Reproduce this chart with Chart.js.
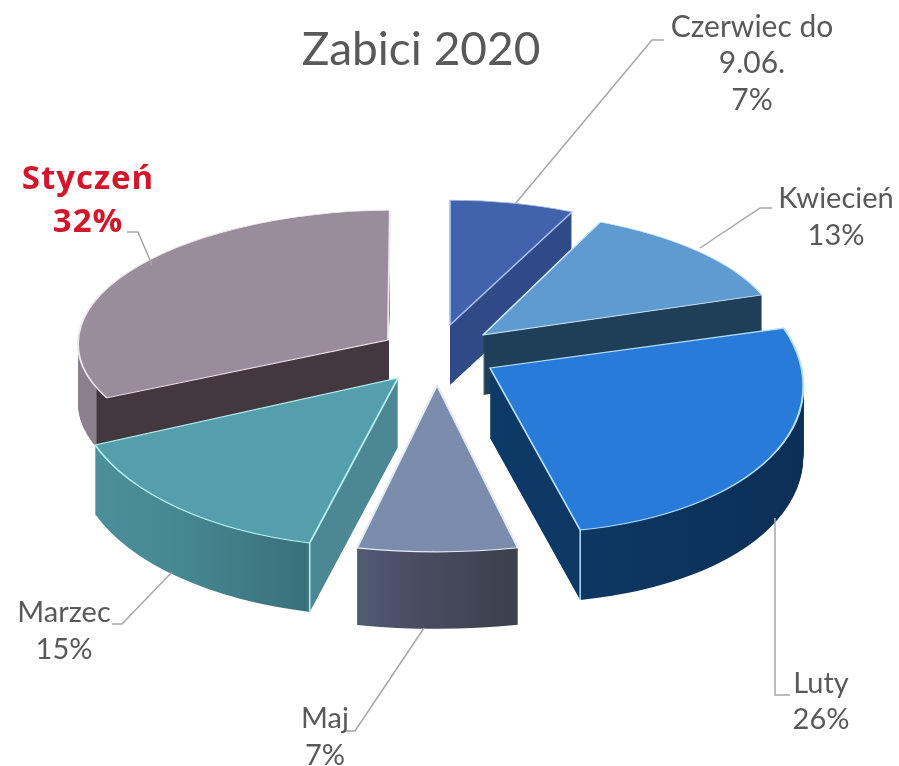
<!DOCTYPE html>
<html lang="pl">
<head>
  <meta charset="UTF-8">
  <title>Zabici 2020</title>
  <style>
    html, body { margin: 0; background: #fff; }
    canvas { display: block; }
  </style>
</head>
<body>
  <canvas id="pie" width="899" height="766"></canvas>

  <script src="https://cdn.jsdelivr.net/npm/chart.js"></script>
  <script>
    const months = ['Czerwiec do 9.06.', 'Kwiecień', 'Luty', 'Maj', 'Marzec', 'Styczeń'];
    const shares = [7, 13, 26, 7, 15, 32];

    const topColors = ['#4263ab', '#5f9ad0', '#287bd8', '#7b8cad', '#559fad', '#998c9b'];
    const edgeColors = ['#a9c0f0', '#cfe6fa', '#b5e0fa', '#e6ebf2', '#b5f0f0', '#eee8ee'];
    // wall shading, left to right across the pie box
    const wallStops = [
      [[0, '#2f4a86'], [1, '#2f4a86']],
      [[0, '#1f3f58'], [1, '#1f3f58']],
      [[0.5, '#0e3a68'], [1, '#0c2f56']],
      [[0.39, '#565f78'], [0.46, '#4a5067'], [0.61, '#3c414d']],
      [[0.02, '#4d919d'], [0.2, '#458791'], [0.40, '#39717b'], [0.408, '#4c8893'], [0.5, '#4c8893']],
      [[0, '#8c7f8e'], [0.03, '#8c7f8e'], [0.032, '#43383f'], [1, '#43383f']]
    ];

    // the pie is faked into perspective, every slice gets its own flattening
    const pieX = 437, pieY = 352, pieRadius = 310;
    const sliceShift = [[13, -27], [46, -17], [53, 16], [0, 33], [-39, 26], [-49, -12]];
    const sliceMatrix = [
      [0.924, 0, 0, 0.403],
      [0.957, -0.006, 0.033, 0.40],
      [1.01, 0.037, 0.041, 0.53],
      [1.19, 0.016, -0.036, 0.538],
      [1.037, 0.018, -0.092, 0.545],
      [1.0, -0.009, -0.006, 0.419]
    ];
    const sliceDepth = [60, 60, 70, 77, 69, 60];
    const drawOrder = [0, 5, 1, 2, 4, 3];
    // light vertical edge on the front corners: slice index, which end of the arc
    const cornerLines = { 2: 'endAngle', 4: 'startAngle' };

    const textColor = '#595959';
    const lineColor = '#a6a6a6';
    const captions = [
      { lines: ['Zabici 2020'], x: 421, y: 50, size: 46, step: 0 },
      { lines: ['Czerwiec do', '9.06.', '7%'], x: 752, y: 27, size: 30, step: 36.5 },
      { lines: ['Kwiecień', '13%'], x: 836, y: 199, size: 29, step: 37 },
      { lines: ['Luty', '26%'], x: 821, y: 684, size: 29, step: 36 },
      { lines: ['Maj', '7%'], x: 325, y: 719, size: 29, step: 37 },
      { lines: ['Marzec', '15%'], x: 64, y: 613, size: 29, step: 37 },
      { lines: ['Styczeń', '32%'], x: 88, y: 180, step: 43, color: '#d3162a', font: 'bold 33px "Open Sans"', spacing: '1px' }
    ];
    const leaders = [
      [[515, 204], [652, 40], [664, 40]],
      [[700, 248], [760, 208], [772, 208]],
      [[775, 518], [775, 695], [790, 695]],
      [[424, 628], [355, 731], [343, 731]],
      [[172, 572], [122, 624], [112, 624]],
      [[152, 265], [138, 232], [127, 232]]
    ];

    function arcWithStyle(arc, style) {
      const copy = Object.create(arc);
      copy.options = Object.assign({
        borderAlign: 'center', borderDash: [], borderDashOffset: 0, borderJoinStyle: 'round',
        borderRadius: 0, circular: true, offset: 0, spacing: 0, selfJoin: false
      }, style);
      return copy;
    }

    function placeSlice(ctx, arc, i, drop) {
      const m = sliceMatrix[i];
      ctx.translate(pieX + sliceShift[i][0], pieY + sliceShift[i][1] + drop);
      ctx.transform(m[0], m[1], m[2], m[3], 0, 0);
      ctx.translate(-arc.x, -arc.y);
    }

    const fakePie3d = {
      id: 'fakePie3d',
      beforeDatasetsDraw(chart) {
        const ctx = chart.ctx;
        const arcs = chart.getDatasetMeta(0).data;
        drawOrder.forEach((i) => {
          const arc = arcs[i];
          const grad = ctx.createLinearGradient(arc.x - pieRadius, 0, arc.x + pieRadius, 0);
          wallStops[i].forEach((s) => grad.addColorStop(s[0], s[1]));
          const wall = arcWithStyle(arc, { backgroundColor: grad, borderColor: grad, borderWidth: 0 });
          for (let d = sliceDepth[i]; d > 0; d--) {
            ctx.save();
            placeSlice(ctx, arc, i, d);
            wall.draw(ctx);
            ctx.restore();
          }
          ctx.save();
          placeSlice(ctx, arc, i, 0);
          arcWithStyle(arc, { backgroundColor: topColors[i], borderColor: edgeColors[i], borderWidth: 2 }).draw(ctx);
          let corner = null;
          if (cornerLines[i]) {
            const a = arc[cornerLines[i]];
            corner = ctx.getTransform().transformPoint(new DOMPoint(arc.x + pieRadius * Math.cos(a), arc.y + pieRadius * Math.sin(a)));
          }
          ctx.restore();
          if (corner) {
            ctx.save();
            ctx.strokeStyle = edgeColors[i];
            ctx.lineWidth = 1.5;
            ctx.beginPath();
            ctx.moveTo(corner.x, corner.y);
            ctx.lineTo(corner.x, corner.y + sliceDepth[i]);
            ctx.stroke();
            ctx.restore();
          }
        });
        return false;
      },
      afterDraw(chart) {
        const ctx = chart.ctx;
        ctx.save();
        ctx.strokeStyle = lineColor;
        ctx.lineWidth = 1.5;
        leaders.forEach((pts) => {
          ctx.beginPath();
          pts.forEach((p, k) => (k ? ctx.lineTo(p[0], p[1]) : ctx.moveTo(p[0], p[1])));
          ctx.stroke();
        });
        ctx.textAlign = 'center';
        ctx.textBaseline = 'middle';
        captions.forEach((c) => {
          ctx.font = c.font || c.size + 'px Lato';
          ctx.letterSpacing = c.spacing || '0px';
          ctx.fillStyle = c.color || textColor;
          c.lines.forEach((line, k) => ctx.fillText(line, c.x, c.y + k * c.step));
        });
        ctx.restore();
      }
    };

    new Chart(document.getElementById('pie').getContext('2d'), {
      type: 'pie',
      data: {
        labels: months,
        datasets: [{ data: shares, backgroundColor: topColors, borderWidth: 0 }]
      },
      options: {
        responsive: false,
        animation: false,
        radius: pieRadius,
        plugins: { legend: { display: false }, tooltip: { enabled: false } }
      },
      plugins: [fakePie3d]
    });
  </script>
</body>
</html>
